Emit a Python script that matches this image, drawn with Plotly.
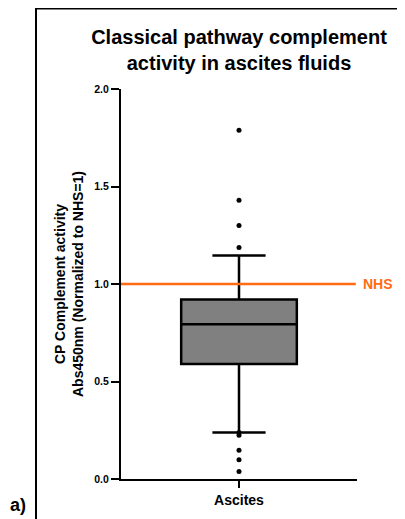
import plotly.graph_objects as go

categories = ["Ascites"]
q1 = [0.590]
median = [0.794]
q3 = [0.921]
lower_fence = [0.238]
upper_fence = [1.146]
outliers = [1.788, 1.430, 1.300, 1.187, 0.238, 0.224, 0.147, 0.099, 0.039]
nhs_level = 1.0
y_ticks = [0.0, 0.5, 1.0, 1.5, 2.0]
y_ticktext = ["0.0", "0.5", "1.0", "1.5", "2.0"]

FONT = "Arial, Liberation Sans, sans-serif"

# page body adds an 8px margin, so the figure is 8px smaller than the window
W, H = 397, 511
L, R, T, B = 113, 48, 81, 40
pw, ph = W - L - R, H - T - B

def px_x(x):
    return (x - L) / pw

def px_y(y):
    return (H - B - y) / ph

fig = go.Figure()
fig.add_trace(go.Box(
    x=categories, q1=q1, median=median, q3=q3,
    lowerfence=lower_fence, upperfence=upper_fence,
    fillcolor="#808080", line=dict(color="black", width=2.5),
    width=0.49, whiskerwidth=0.46, boxpoints=False, showlegend=False,
    hoverinfo="skip",
))
fig.add_trace(go.Scatter(
    x=categories * len(outliers), y=outliers, mode="markers",
    marker=dict(color="black", size=5), showlegend=False, hoverinfo="skip",
))

# NHS reference line
fig.add_shape(type="line", xref="paper", yref="y", x0=0, x1=0.995,
              y0=nhs_level, y1=nhs_level, line=dict(color="#FF6A13", width=2.5))
fig.add_annotation(xref="paper", yref="y", x=px_x(353), y=nhs_level, text="<b>NHS</b>",
                   showarrow=False, xanchor="left", yanchor="middle",
                   font=dict(family=FONT, size=14, color="#FF6A13"))

# panel frame (left and top borders)
fig.add_shape(type="line", xref="paper", yref="paper", x0=px_x(28), x1=px_x(28),
              y0=px_y(0), y1=px_y(530), line=dict(color="black", width=2))
fig.add_shape(type="line", xref="paper", yref="paper", x0=px_x(27), x1=px_x(420),
              y0=px_y(0.5), y1=px_y(0.5), line=dict(color="black", width=2))

fig.add_annotation(xref="paper", yref="paper", x=px_x(10), y=px_y(485), text="<b>a)</b>",
                   showarrow=False, xanchor="center", yanchor="top",
                   font=dict(family=FONT, size=18, color="black"))

fig.update_layout(
    width=W, height=H,
    margin=dict(l=L, r=R, t=T, b=B),
    paper_bgcolor="white", plot_bgcolor="white",
    title=dict(text="<b>Classical pathway complement<br>activity in ascites fluids</b>",
               x=0.5, xref="paper", xanchor="center", y=1 - 36 / H, yanchor="middle",
               font=dict(family=FONT, size=20, color="black")),
    font=dict(family=FONT, color="black"),
)
fig.update_xaxes(
    range=[-0.5, 0.5], showline=True, linecolor="black", linewidth=2,
    ticks="outside", ticklen=7, tickwidth=2, tickcolor="black",
    tickfont=dict(family=FONT, size=14), showgrid=False, zeroline=False,
    tickvals=categories, ticktext=["<b>Ascites</b>"],
)
fig.update_yaxes(
    range=[0, 2], showline=True, linecolor="black", linewidth=2,
    ticks="outside", ticklen=8, tickwidth=2, tickcolor="black",
    tickvals=y_ticks, ticktext=["<b>%s</b>" % t for t in y_ticktext],
    tickfont=dict(family=FONT, size=10.5), showgrid=False, zeroline=False,
    title=dict(text="<b>CP Complement activity<br>Abs450nm (Normalized to NHS=1)</b>",
               font=dict(family=FONT, size=14), standoff=7),
)

fig.write_html("out.html")
